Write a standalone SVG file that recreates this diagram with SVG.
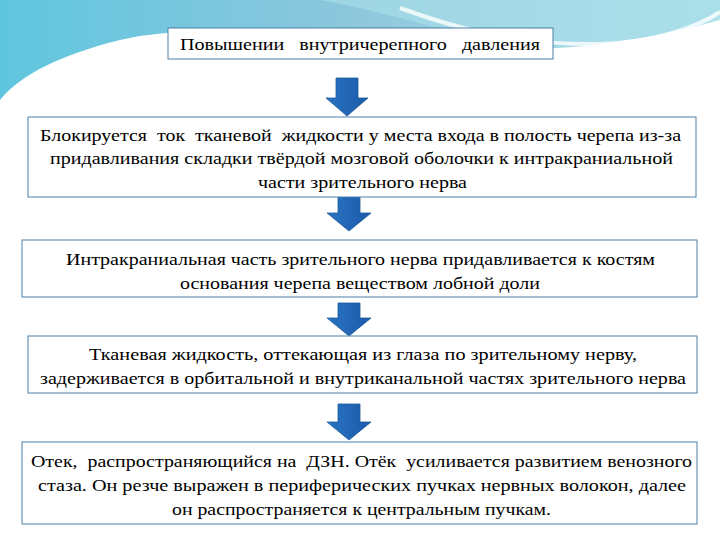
<svg xmlns="http://www.w3.org/2000/svg" width="720" height="540" viewBox="0 0 720 540">
<defs>
<linearGradient id="bg" x1="0" y1="0" x2="1" y2="0"><stop offset="0" stop-color="#5fc6df"/><stop offset="0.5" stop-color="#8ec7dc"/><stop offset="1" stop-color="#b4e4ec"/></linearGradient>
<linearGradient id="ar" x1="0" y1="0" x2="1" y2="0"><stop offset="0" stop-color="#2a74c4"/><stop offset="1" stop-color="#1a5aa8"/></linearGradient>
<style>
.b{fill:#fff;stroke:#4a7fa8;stroke-width:1}
text{font-family:'Liberation Serif','DejaVu Serif','Times New Roman',serif;font-size:17px;fill:#000;text-anchor:middle}
.a{fill:url(#ar);stroke:#1d5a9c;stroke-width:0.8}
</style>
</defs>
<rect width="720" height="540" fill="#fff"/>
<path d="M0 0H720V20C650 40 560 55 450 48C330 40 200 20 120 40C60 55 20 75 0 100Z" fill="url(#bg)"/>
<path d="M320 0C380 10 430 30 520 42C600 50 680 35 720 15V0Z" fill="#a7dde8" opacity="0.7"/>
<path d="M400 8C460 30 520 45 600 44C660 42 700 25 720 12" fill="none" stroke="#fff" stroke-width="4" opacity="0.8"/>
<g id="connectors">
<path class="a" d="M336 78H358V98H368L347 116L326 98H336Z"/>
<path class="a" d="M338 196H360V213H371L349 231L327 213H338Z"/>
<path class="a" d="M338 303H360V318H371L349 336L327 318H338Z"/>
<path class="a" d="M338 404H360V422H371L349 440L327 422H338Z"/>
</g>
<g id="n0"><rect class="b" x="168" y="28" width="385" height="31"/><text x="360" y="50" textLength="360" lengthAdjust="spacingAndGlyphs" xml:space="preserve">Повышении   внутричерепного   давления</text></g>
<g id="n1"><rect class="b" x="28" y="117" width="668" height="80"/>
<text x="360.5" y="141" textLength="641" lengthAdjust="spacingAndGlyphs" xml:space="preserve">Блокируется  ток  тканевой  жидкости у места входа в полость черепа из-за</text>
<text x="361.5" y="164" textLength="623" lengthAdjust="spacingAndGlyphs">придавливания складки твёрдой мозговой оболочки к интракраниальной</text>
<text x="362.5" y="188" textLength="209" lengthAdjust="spacingAndGlyphs">части зрительного нерва</text></g>
<g id="n2"><rect class="b" x="22" y="240" width="675" height="57"/>
<text x="360.5" y="265" textLength="589" lengthAdjust="spacingAndGlyphs">Интракраниальная часть зрительного нерва придавливается к костям</text>
<text x="360" y="289" textLength="360" lengthAdjust="spacingAndGlyphs">основания черепа веществом лобной доли</text></g>
<g id="n3"><rect class="b" x="28" y="336" width="669" height="57"/>
<text x="363" y="360" textLength="548" lengthAdjust="spacingAndGlyphs">Тканевая жидкость, оттекающая из глаза по зрительному нерву,</text>
<text x="363" y="384" textLength="646" lengthAdjust="spacingAndGlyphs">задерживается в орбитальной и внутриканальной частях зрительного нерва</text></g>
<g id="n4"><rect class="b" x="22" y="442" width="675" height="82"/>
<text x="361.5" y="467" textLength="661" lengthAdjust="spacingAndGlyphs" xml:space="preserve">Отек,  распространяющийся на  ДЗН. Отёк  усиливается развитием венозного</text>
<text x="362" y="491" textLength="648" lengthAdjust="spacingAndGlyphs">стаза. Он резче выражен в периферических пучках нервных волокон, далее</text>
<text x="361.5" y="515" textLength="379" lengthAdjust="spacingAndGlyphs">он распространяется к центральным пучкам.</text></g>
</svg>
